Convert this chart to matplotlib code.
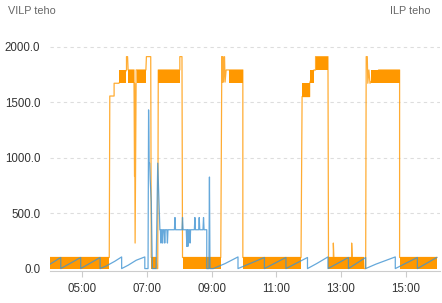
import matplotlib

matplotlib.use("Agg")
import matplotlib.pyplot as plt

# ILP teho (orange): line points, plus the stretches where it switches so fast it reads as a band
ilp_time = ["04:00", "05:50", "05:51", "05:59", "05:59", "06:08", "06:22", "06:22", "06:24", "06:25",
            "06:36", "06:37", "06:37", "06:38", "06:40", "06:58", "06:59", "07:07", "07:08", "07:17",
            "07:18", "07:20", "07:21", "08:01", "08:01", "08:05", "08:06", "09:17", "09:19", "09:20",
            "09:21", "09:22", "09:24", "09:25", "09:27", "09:33", "09:58", "09:58", "11:46", "11:48",
            "12:02", "12:02", "12:10", "12:13", "12:13", "12:36", "12:37", "12:46", "12:46", "12:47",
            "13:20", "13:20", "13:21", "13:42", "13:43", "13:46", "13:47", "13:49", "13:50", "13:52",
            "13:54", "14:10", "14:49", "14:49", "15:58"]
ilp_value = [100, 100, 1555, 1555, 1670, 1670, 1790, 1910, 1910, 1790,
             1790, 830, 1670, 230, 1790, 1790, 1910, 1910, 100, 100,
             0, 0, 1790, 1790, 1910, 1910, 100, 100, 1910, 1680,
             1910, 1680, 1910, 1680, 1790, 1790, 1790, 100, 100, 1550,
             1550, 1670, 1790, 1790, 1910, 1910, 100, 100, 230, 100,
             100, 230, 100, 100, 0, 0, 1910, 1910, 1670, 1790,
             1670, 1790, 1790, 100, 100]

ilp_band_start = ["04:00", "07:08", "08:06", "09:58", "12:37", "14:49",
                  "06:08", "06:25", "06:41", "07:21", "09:33", "11:48", "12:02", "12:13", "13:55"]
ilp_band_end = ["05:50", "07:17", "09:17", "11:46", "13:42", "15:58",
                "06:22", "06:36", "06:58", "08:01", "09:58", "12:02", "12:10", "12:36", "14:49"]
ilp_band_low = [0, 0, 0, 0, 0, 0,
                1670, 1670, 1670, 1670, 1670, 1550, 1670, 1790, 1670]
ilp_band_high = [100, 100, 100, 100, 100, 100,
                 1790, 1790, 1790, 1790, 1790, 1670, 1790, 1910, 1790]

# VILP teho (blue)
vilp_time = ["04:00", "04:20", "04:20", "04:57", "04:57", "05:33", "05:33", "05:45", "06:00", "06:13",
             "06:13", "06:25", "06:40", "06:56", "06:56", "07:02", "07:03", "07:04", "07:05", "07:06",
             "07:08", "07:10", "07:12", "07:17", "07:20", "07:24",
             "07:25", "07:26", "07:27", "07:28", "07:29", "07:30", "07:32", "07:33", "07:34",
             "07:37", "07:38", "07:39", "07:51", "07:52", "07:53", "08:05", "08:06", "08:07",
             "08:13", "08:14", "08:15", "08:16", "08:17", "08:19", "08:20", "08:21",
             "08:28", "08:29", "08:30", "08:36", "08:37", "08:38", "08:44", "08:45", "08:46",
             "08:51", "08:51", "08:55", "08:56", "08:57", "09:03", "09:25", "09:49", "09:49", "10:38",
             "10:38", "11:18", "11:18", "11:58", "11:58", "12:15", "12:36", "12:36", "13:14", "13:14",
             "13:46", "13:46", "14:05", "14:41", "14:41", "15:22", "15:22", "15:58"]
vilp_value = [40, 100, 0, 100, 0, 100, 0, 25, 65, 105,
              0, 30, 75, 105, 0, 0, 1430, 950, 950, 800,
              600, 0, 0, 0, 950, 350,
              350, 230, 350, 350, 230, 350, 350, 230, 350,
              350, 230, 350, 350, 460, 350, 350, 460, 350,
              350, 200, 350, 200, 350, 350, 230, 350,
              350, 460, 350, 350, 460, 350, 350, 460, 350,
              350, 0, 0, 825, 0, 0, 45, 105, 0, 100,
              0, 100, 0, 100, 0, 45, 105, 0, 100, 0,
              100, 0, 40, 105, 0, 100, 0, 100]

ticks = ["05:00", "07:00", "09:00", "11:00", "13:00", "15:00"]


def hours(s):
    h, m = s.split(":")
    return int(h) + int(m) / 60.0


plt.rcParams["font.family"] = ["Liberation Sans", "DejaVu Sans"]

fig = plt.figure(figsize=(4.42, 3.03), dpi=100)
ax = fig.add_axes([50 / 442, 1 - 270.8 / 303, 390 / 442, 240.8 / 303])

orange = "#ff9800"
blue = "#3f93d2"

for t0, t1, lo, hi in zip(ilp_band_start, ilp_band_end, ilp_band_low, ilp_band_high):
    ax.fill_between([hours(t0), hours(t1)], [lo, lo], [hi, hi], color=orange, linewidth=0, zorder=2)
ax.plot([hours(t) for t in ilp_time], ilp_value, color=orange, linewidth=0.9, alpha=0.8, zorder=3)
ax.plot([hours(t) for t in vilp_time], vilp_value, color=blue, linewidth=0.9, alpha=0.8, zorder=4)

ax.set_xlim(4.0, hours("16:04"))
ax.set_ylim(-20, 2150)
ax.set_yticks([0, 500, 1000, 1500, 2000])
ax.set_yticklabels([f"{v:.1f}" for v in [0, 500, 1000, 1500, 2000]])
ax.set_xticks([hours(t) for t in ticks])
ax.set_xticklabels(ticks)
ax.tick_params(axis="y", length=0, pad=7, labelsize=8.3, labelcolor="#333333")
ax.tick_params(axis="x", length=4, width=0.8, color="#cccccc", pad=5, labelsize=8.3, labelcolor="#333333")
for v in [500, 1000, 1500, 2000]:
    ax.axhline(v, color="#dddddd", linewidth=0.8, linestyle=(0, (3, 3)), zorder=1)
for side in ["top", "right", "left"]:
    ax.spines[side].set_visible(False)
ax.spines["bottom"].set_color("#cccccc")
ax.spines["bottom"].set_linewidth(0.8)

fig.text(8 / 442, 1 - 11 / 303, "VILP teho", fontsize=7.8, color="#666666", va="center", ha="left")
fig.text(431 / 442, 1 - 11 / 303, "ILP teho", fontsize=7.8, color="#666666", va="center", ha="right")

fig.savefig("out.png", dpi=100)
